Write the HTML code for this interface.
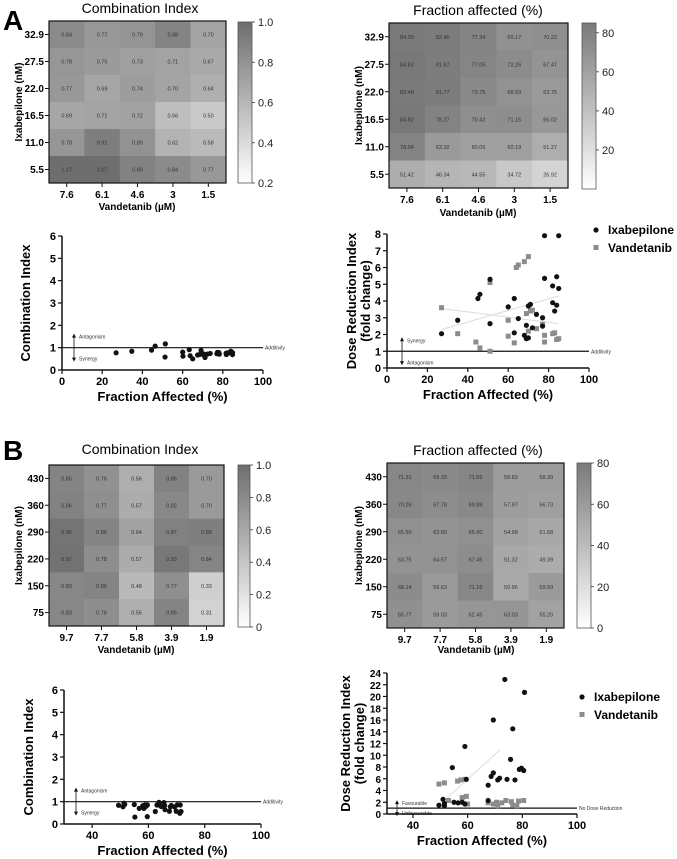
<!DOCTYPE html>
<html><head><meta charset="utf-8"><style>
html,body{margin:0;padding:0;background:#fff;}
svg{display:block;font-family:"Liberation Sans",Arial,sans-serif;}
</style></head><body>
<svg id="fig" width="677" height="859" viewBox="0 0 677 859" xmlns="http://www.w3.org/2000/svg">
<defs>
<linearGradient id="gCI" x1="0" y1="1" x2="0" y2="0"><stop offset="0" stop-color="#ffffff"/><stop offset="1" stop-color="#6e6e6e"/></linearGradient>
<linearGradient id="gFA" x1="0" y1="1" x2="0" y2="0"><stop offset="0" stop-color="#ffffff"/><stop offset="1" stop-color="#7a7a7a"/></linearGradient>
</defs>
<text x="3" y="30" font-size="28" font-weight="bold">A</text>
<text x="3" y="460" font-size="28" font-weight="bold">B</text>
</svg>
<script>
// ---------- DATA ----------
const rowsA = ["32.9","27.5","22.0","16.5","11.0","5.5"];
const colsA = ["7.6","6.1","4.6","3","1.5"];
const ciA = [
 [0.84,0.77,0.79,0.88,0.70],
 [0.78,0.75,0.73,0.71,0.67],
 [0.77,0.69,0.74,0.70,0.64],
 [0.69,0.71,0.72,0.56,0.50],
 [0.78,0.91,0.80,0.62,0.58],
 [1.17,1.07,0.89,0.84,0.77]];
const faA = [
 [84.00,82.45,77.34,69.17,70.22],
 [84.82,81.67,77.05,72.26,67.47],
 [83.48,81.77,73.75,68.59,63.75],
 [84.82,78.27,70.42,71.15,65.02],
 [78.04,63.32,60.05,60.19,51.27],
 [51.42,46.34,44.55,34.72,26.92]];
const rowsB = ["430","360","290","220","150","75"];
const colsB = ["9.7","7.7","5.8","3.9","1.9"];
const ciB = [
 [0.85,0.76,0.56,0.86,0.70],
 [0.86,0.77,0.57,0.82,0.70],
 [0.96,0.85,0.64,0.87,0.88],
 [0.97,0.78,0.57,0.93,0.84],
 [0.83,0.85,0.48,0.77,0.33],
 [0.83,0.78,0.56,0.85,0.31]];
const faB = [
 [71.31,69.33,71.59,58.83,58.39],
 [70.26,67.78,69.89,57.97,56.73],
 [65.50,63.80,65.90,54.98,51.58],
 [63.75,64.57,67.45,51.32,49.39],
 [68.14,59.63,71.16,50.96,59.59],
 [65.77,59.03,62.45,63.03,55.20]];
const driIxaFaA = [27,35,45,46,51,51,60,63,63,65,68,69,70,70,71,72,74,77,77,78,78,82,82,83,84,84,85,85,69];
const driIxaValA = [2.05,2.85,4.15,4.4,2.65,5.3,3.65,4.15,2.1,2.95,1.95,2.55,1.8,3.7,3.8,2.4,3.2,3.0,2.5,7.9,5.35,4.9,3.9,3.4,5.45,3.75,4.75,7.9,1.75];
const driVanFaA = [27,35,44,46,51,51,60,60,63,64,65,68,70,69,70,71,72,74,77,78,78,82,83,84,85];
const driVanValA = [3.6,2.05,1.55,1.2,1.0,5.1,2.85,1.9,1.5,6.0,6.15,6.35,6.65,3.25,2.2,3.4,3.45,2.35,2.6,1.95,1.55,2.05,2.1,1.7,1.75];
const driIxaFaB = [49.5,51,51.5,51.5,55,54.4,56.5,58,59,59.5,59,69.4,67.5,67.5,68.6,69.4,71,71.7,73.6,75.7,76.5,74.4,77.3,78.9,79.7,80.5,80.8];
const driIxaValB = [1.5,2.5,1.4,1.8,2.0,7.9,1.9,2.0,11.5,5.9,1.7,16.0,2.3,4.9,6.4,7.0,5.8,6.1,22.9,9.3,14.5,5.9,5.8,7.6,7.8,7.4,20.7];
const driVanFaB = [49.5,51.5,56.3,57.5,59,59.5,58,60,67.5,69.4,70.6,72.5,74,76,78.6,80.5,71,76.5,78,53];
const driVanValB = [5.1,5.3,5.6,5.8,5.9,3.0,2.8,1.7,1.9,1.7,2.0,1.9,2.3,2.1,2.2,2.3,1.4,1.5,1.4,2.3];

// ---------- HELPERS ----------
const svg = document.getElementById('fig');
const NS = 'http://www.w3.org/2000/svg';
function mk(tag, attrs, parent){
  const e = document.createElementNS(NS, tag);
  for (const k in attrs) e.setAttribute(k, attrs[k]);
  (parent||svg).appendChild(e);
  return e;
}
function txt(s, attrs, parent){ const e = mk('text', attrs, parent); e.textContent = s; return e; }
function lin(d0,d1,r0,r1){ return v => r0 + (v-d0)/(d1-d0)*(r1-r0); }
function grey(v,min,max,dark){ let t=(v-min)/(max-min); t=Math.max(0,Math.min(1,t)); const g=Math.round(255-(255-dark)*t); return 'rgb('+g+','+g+','+g+')'; }

function heatmap(o){
  const g = mk('g', {});
  
  
  const nr=o.rows.length, nc=o.cols.length;
  const cw=(o.x1-o.x0)/nc, ch=(o.y1-o.y0)/nr;
  for(let r=0;r<nr;r++) for(let c=0;c<nc;c++){
    const v=o.data[r][c];
    const rc = mk('rect',{x:o.x0+c*cw,y:o.y0+r*ch,width:cw+0.3,height:ch+0.3,fill:grey(v,o.min,o.max,o.dark)},g);
    
    
    const t = txt(v.toFixed(2),{x:o.x0+c*cw+cw/2,y:o.y0+r*ch+ch/2+2,'font-size':5.5,'text-anchor':'middle',fill:'#333'},g);
    
    
  }
  mk('rect',{x:o.x0,y:o.y0,width:o.x1-o.x0,height:o.y1-o.y0,fill:'none',stroke:'#111','stroke-width':1.2},g);
  for(let r=0;r<nr;r++){
    const y=o.y0+r*ch+ch/2;
    mk('line',{x1:o.x0-4,x2:o.x0,y1:y,y2:y,stroke:'#111','stroke-width':1},g);
    const t=txt(o.rows[r],{x:o.x0-5,y:y+3.5,'font-size':10,'font-weight':'bold','text-anchor':'end'},g);
    
    
  }
  for(let c=0;c<nc;c++){
    const x=o.x0+c*cw+cw/2;
    mk('line',{x1:x,x2:x,y1:o.y1,y2:o.y1+4,stroke:'#111','stroke-width':1},g);
    const t=txt(o.cols[c],{x:x,y:o.y1+15,'font-size':10,'font-weight':'bold','text-anchor':'middle'},g);
    
    
  }
  const tt=txt(o.title,{x:o.tx,y:o.ty,'font-size':14,'text-anchor':'middle'},g);
  
  
  const yt=txt('Ixabepilone (nM)',{x:0,y:0,'font-size':10,'font-weight':'bold','text-anchor':'middle',transform:'translate('+o.ylx+','+((o.y0+o.y1)/2)+') rotate(-90)'},g);
  
  
  const xt=txt('Vandetanib (\u00b5M)',{x:o.xlx,y:o.xly,'font-size':10,'font-weight':'bold','text-anchor':'middle'},g);
  
  
  const cb=mk('rect',{x:o.cx0,y:o.cy0,width:o.cx1-o.cx0,height:o.cy1-o.cy0,fill:'url(#'+o.grad+')',stroke:'#555','stroke-width':0.8},g);
  
  
  const sc=lin(o.cmin,o.cmax,o.cy1,o.cy0);
  o.cticks.forEach(v=>{
    const y=sc(v);
    mk('line',{x1:o.cx1,x2:o.cx1+3,y1:y,y2:y,stroke:'#333','stroke-width':0.8},g);
    const t=txt(o.cfmt(v),{x:o.cx1+6,y:y+4,'font-size':11,fill:'#222'},g);
    
    
  });
}

heatmap({name:'ci-heatmap-a',rows:rowsA,cols:colsA,data:ciA,min:0.2,max:1.0,dark:110,x0:49,x1:226,y0:21,y1:183,
 title:'Combination Index',tx:140,ty:13,ylx:22,xlx:137,xly:210,
 grad:'gCI',cx0:238,cx1:252,cy0:22,cy1:183,cmin:0.2,cmax:1.0,cticks:[0.2,0.4,0.6,0.8,1.0],cfmt:v=>v.toFixed(1)});
heatmap({name:'fa-heatmap-a',rows:rowsA,cols:colsA,data:faA,min:0,max:85,dark:120,x0:389,x1:568,y0:23,y1:188,
 title:'Fraction affected (%)',tx:478,ty:15,ylx:362,xlx:478,xly:216,
 grad:'gFA',cx0:582,cx1:596,cy0:23,cy1:189,cmin:0,cmax:85,cticks:[20,40,60,80],cfmt:v=>String(v)});
heatmap({name:'ci-heatmap-b',rows:rowsB,cols:colsB,data:ciB,min:0,max:1.0,dark:110,x0:49,x1:224,y0:465,y1:626,
 title:'Combination Index',tx:140,ty:454,ylx:22,xlx:136,xly:653,
 grad:'gCI',cx0:238,cx1:250,cy0:465,cy1:627,cmin:0,cmax:1.0,cticks:[0,0.2,0.4,0.6,0.8,1.0],cfmt:v=>v===0?'0':v.toFixed(1)});
heatmap({name:'fa-heatmap-b',rows:rowsB,cols:colsB,data:faB,min:0,max:80,dark:120,x0:387,x1:564,y0:463,y1:628,
 title:'Fraction affected (%)',tx:478,ty:455,ylx:362,xlx:476,xly:653,
 grad:'gFA',cx0:577,cx1:591,cy0:463,cy1:628,cmin:0,cmax:80,cticks:[0,20,40,60,80],cfmt:v=>String(v)});

function scatter(o){
  const g = mk('g', {});
  
  
  const X=lin(o.xmin,o.xmax,o.px0,o.px1), Y=lin(0,o.ymax,o.py0,o.py1);
  const ref=mk('line',{x1:o.px0,x2:o.px1,y1:Y(1),y2:Y(1),stroke:'#111','stroke-width':1.2},g);
  
  
  const rl=txt(o.refLabel,{x:o.px1+2,y:Y(1)+2,'font-size':5,fill:'#333'},g);
  
  
  const ax=o.arrowX, h=o.arrowH||12;
  mk('line',{x1:ax,x2:ax,y1:Y(1)-h,y2:Y(1)+h,stroke:'#111','stroke-width':0.8},g);
  mk('path',{d:'M'+(ax-2)+','+(Y(1)-h+2)+' L'+ax+','+(Y(1)-h-2)+' L'+(ax+2)+','+(Y(1)-h+2)+'Z',fill:'#111'},g);
  mk('path',{d:'M'+(ax-2)+','+(Y(1)+h-2)+' L'+ax+','+(Y(1)+h+2)+' L'+(ax+2)+','+(Y(1)+h-2)+'Z',fill:'#111'},g);
  const u=txt(o.up,{x:ax+5,y:Y(1)-h+3,'font-size':5,fill:'#333'},g);
  
  
  const d=txt(o.down,{x:ax+5,y:Y(1)+h+1,'font-size':5,fill:'#333'},g);
  
  
  (o.trends||[]).forEach(t=>{
    const tl=mk('line',{x1:X(t[0]),y1:Y(t[1]),x2:X(t[2]),y2:Y(t[3]),stroke:'#dcdcdc','stroke-width':1},g);
    
    
  });
  o.series.forEach(s=>{
    for(let i=0;i<s.x.length;i++){
      let m;
      if(s.shape==='sq') m=mk('rect',{x:X(s.x[i])-2.5,y:Y(s.y[i])-2.5,width:5,height:5,fill:'#8c8c8c'},g);
      else m=mk('circle',{cx:X(s.x[i]),cy:Y(s.y[i]),r:2.6,fill:'#111'},g);
      
      
    }
  });
  mk('line',{x1:o.px0,x2:o.px0,y1:o.py0,y2:o.py1,stroke:'#111','stroke-width':1.5},g);
  mk('line',{x1:o.px0,x2:o.px1,y1:o.py0,y2:o.py0,stroke:'#111','stroke-width':1.5},g);
  o.yticks.forEach(v=>{
    mk('line',{x1:o.px0-4,x2:o.px0,y1:Y(v),y2:Y(v),stroke:'#111','stroke-width':1.2},g);
    const t=txt(String(v),{x:o.px0-6,y:Y(v)+4,'font-size':o.yfs||11,'font-weight':'bold','text-anchor':'end'},g);
    
    
  });
  o.xticks.forEach(v=>{
    mk('line',{x1:X(v),x2:X(v),y1:o.py0,y2:o.py0+4,stroke:'#111','stroke-width':1.2},g);
    const t=txt(String(v),{x:X(v),y:o.py0+15,'font-size':11,'font-weight':'bold','text-anchor':'middle'},g);
    
    
  });
  const xt=txt('Fraction Affected (%)',{x:(o.px0+o.px1)/2,y:o.py0+31,'font-size':13,'font-weight':'bold','text-anchor':'middle'},g);
  
  
  o.ytitle.forEach((s,i)=>{
    const cy=(o.py0+o.py1)/2;
    const t=txt(s,{x:0,y:0,'font-size':13,'font-weight':'bold','text-anchor':'middle',transform:'translate('+(o.ytx+i*14)+','+cy+') rotate(-90)'},g);
    
    
  });
  if(o.legend){
    const lg=mk('g',{},g);
    
    
    mk('circle',{cx:o.legend[0],cy:o.legend[1],r:2.6,fill:'#111'},lg);
    const a=txt('Ixabepilone',{x:o.legend[0]+12,y:o.legend[1]+4,'font-size':12,'font-weight':'bold'},lg);
    
    
    mk('rect',{x:o.legend[0]-2.5,y:o.legend[1]+15,width:5,height:5,fill:'#8c8c8c'},lg);
    const b=txt('Vandetanib',{x:o.legend[0]+12,y:o.legend[1]+22,'font-size':12,'font-weight':'bold'},lg);
    
    
  }
}

scatter({name:'ci-scatter-a',xmin:0,xmax:100,ymax:6,px0:62,px1:263,py0:370,py1:236,
 refLabel:'Additivity',arrowX:74,up:'Antagonism',down:'Synergy',
 yticks:[0,1,2,3,4,5,6],xticks:[0,20,40,60,80,100],ytitle:['Combination Index'],ytx:30,
 series:[{shape:'c',pname:'ci-point',x:faA.flat(),y:ciA.flat()}]});
scatter({name:'dri-scatter-a',xmin:0,xmax:100,ymax:8,px0:387,px1:589,py0:368,py1:234,
 refLabel:'Additivity',arrowX:402,up:'Synergy',down:'Antagonism',
 yticks:[0,1,2,3,4,5,6,7,8],xticks:[0,20,40,60,80,100],ytitle:['Dose Reduction Index','(fold change)'],ytx:356,
 trends:[[27,2.3,85,4.3],[27,3.55,85,2.65]],legend:[596,230],
 series:[{shape:'sq',pname:'vandetanib-point',x:driVanFaA,y:driVanValA},{shape:'c',pname:'ixabepilone-point',x:driIxaFaA,y:driIxaValA}]});
scatter({name:'ci-scatter-b',xmin:30,xmax:100,ymax:6,px0:64,px1:261,py0:824,py1:690,
 refLabel:'Additivity',arrowX:76,up:'Antagonism',down:'Synergy',
 yticks:[0,1,2,3,4,5,6],xticks:[40,60,80,100],ytitle:['Combination Index'],ytx:33,
 series:[{shape:'c',pname:'ci-point',x:faB.flat(),y:ciB.flat()}]});
scatter({name:'dri-scatter-b',xmin:30.5,xmax:100,ymax:24,px0:387,px1:577,py0:814,py1:673,
 refLabel:'No Dose Reduction',arrowX:397,arrowH:6,up:'Favourable',down:'Unfavourable',yfs:10,
 yticks:[0,2,4,6,8,10,12,14,16,18,20,22,24],xticks:[40,60,80,100],ytitle:['Dose Reduction Index','(fold change)'],ytx:350,
 trends:[[52,2.5,72,11]],legend:[582,697],
 series:[{shape:'sq',pname:'vandetanib-point',x:driVanFaB,y:driVanValB},{shape:'c',pname:'ixabepilone-point',x:driIxaFaB,y:driIxaValB}]});
</script>
</body></html>
